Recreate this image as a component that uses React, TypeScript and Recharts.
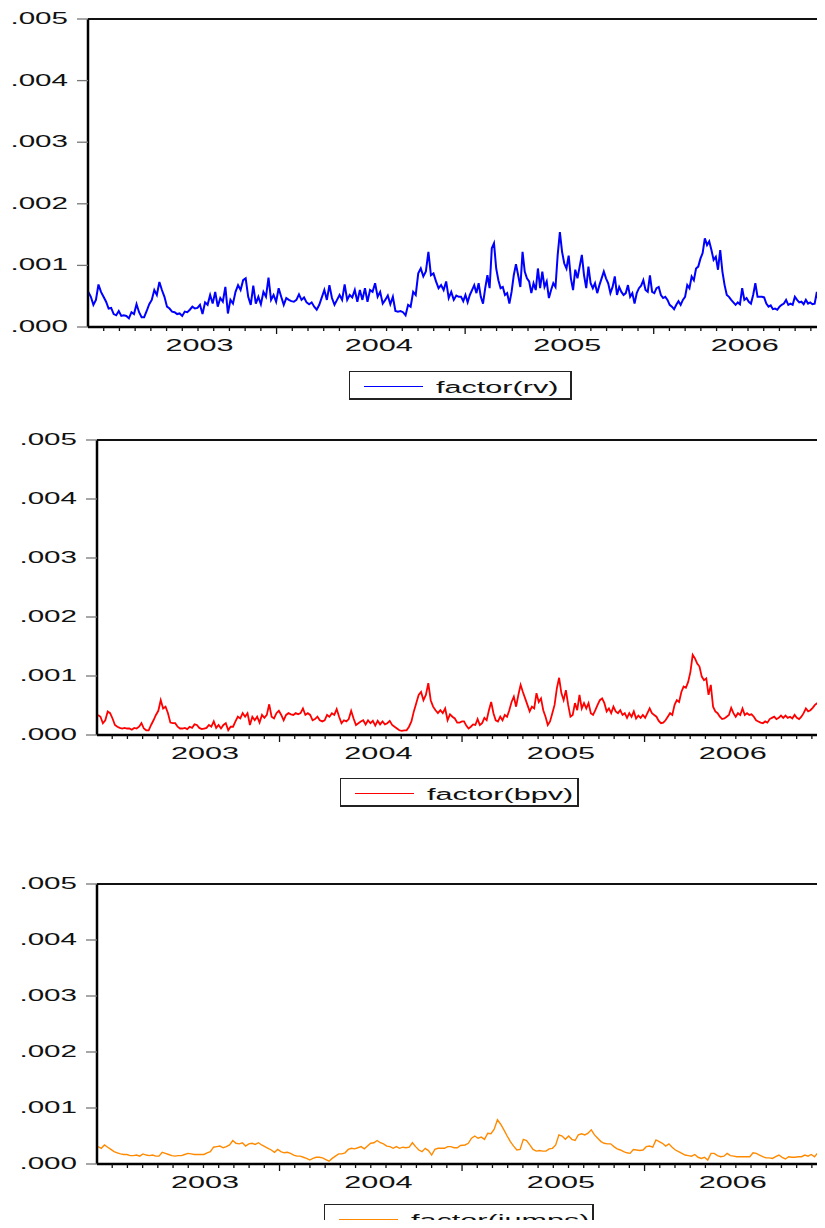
import React from "react";
import { LineChart, Line, XAxis, YAxis, Legend, ReferenceLine } from "recharts";

// series values in units of 1e-4, read left to right off each panel.
// each series is read in two halves; each half spans the months given next to it.
const rvEarly = [
  5.7, 4.9, 3.6, 4.4, 6.9, 5.7, 4.9, 4.1, 3.0, 3.1, 2.1, 1.9, 2.6, 1.8, 1.9, 1.8, 1.4, 2.4, 2.1, 3.7,
  2.4, 1.6, 1.6, 2.6, 3.7, 4.4, 6.0, 5.2, 7.3, 6.0, 4.9, 3.3, 3.0, 2.5, 2.4, 2.1, 2.2, 1.8, 2.5, 2.4,
  2.8, 3.3, 3.0, 3.1, 3.6, 2.1, 4.0, 3.6, 5.2, 3.8, 5.7, 3.3, 4.7, 4.1, 6.5, 2.2, 4.4, 3.8, 5.7, 6.8,
  6.0, 7.6, 7.9, 4.9, 3.6, 6.7, 3.8, 4.9, 3.7, 5.7, 4.9, 8.0, 4.4, 5.2, 4.1, 6.3, 4.9, 3.6, 4.7, 4.4,
  4.2, 4.1, 4.4, 5.3, 4.4, 4.8, 4.0, 3.7, 4.0, 3.3, 2.8, 3.6, 4.8, 6.0, 4.4, 6.8, 4.7, 3.6, 4.4, 5.2,
  4.4, 6.9, 4.4, 5.2, 4.8, 6.0, 4.1, 6.0, 4.4, 6.3, 4.1, 6.0, 5.7, 7.1, 4.9, 5.7, 3.8, 4.4, 5.1, 3.7,
  4.9, 2.6, 2.5, 2.6, 2.4, 1.9, 3.6, 3.3, 5.7, 5.2, 8.7, 9.5, 8.2, 9.0, 12.2, 8.4, 8.7, 7.4, 6.3, 6.8,
  6.0, 7.4, 4.7, 5.7, 4.4, 5.1, 4.9,
];
const rvLate = [
  4.9, 4.2, 5.2, 4.0, 5.2, 6.0, 6.8, 5.5, 7.1, 4.9, 3.8, 6.3, 8.4, 6.3, 12.8, 13.6, 9.5, 7.6, 6.3, 6.5,
  5.2, 5.5, 3.8, 5.7, 8.4, 10.2, 8.4, 6.5, 12.2, 9.0, 7.9, 7.4, 5.5, 7.1, 6.0, 9.5, 6.3, 9.0, 6.5, 7.4,
  4.7, 6.0, 7.1, 6.5, 11.7, 15.4, 12.2, 10.3, 9.5, 11.6, 7.9, 6.0, 9.3, 7.9, 9.8, 11.7, 8.4, 6.3, 9.8, 7.1,
  6.3, 7.1, 5.5, 6.8, 7.9, 9.0, 7.9, 7.1, 5.5, 6.5, 8.2, 5.2, 6.5, 5.7, 5.2, 5.5, 6.8, 4.9, 5.5, 3.8,
  5.5, 6.3, 6.7, 7.6, 6.0, 5.7, 8.4, 5.7, 5.5, 6.3, 6.5, 5.2, 4.7, 4.9, 4.4, 3.6, 3.3, 2.9, 3.6, 4.2,
  3.6, 4.4, 4.9, 6.8, 6.3, 8.2, 7.6, 9.5, 9.8, 11.1, 12.0, 14.4, 13.3, 13.9, 12.5, 10.9, 11.4, 9.3, 12.5, 9.0,
  6.8, 5.2, 4.9, 4.4, 4.0, 3.6, 4.0, 3.7, 6.3, 4.4, 4.7, 4.1, 3.8, 5.2, 7.1, 4.9, 4.9, 4.9, 4.8, 3.8,
  3.3, 3.5, 2.9, 3.0, 2.8, 3.3, 3.6, 3.8, 4.4, 3.6, 3.8, 3.6, 4.9, 4.4, 4.0, 4.1, 3.7, 4.4, 3.8, 4.0,
  3.7, 3.8, 5.7, 3.6, 6.0, 5.5,
];
const rvEarlyMonths = [0.02, 23.6];
const rvLateMonths = [23.74, 46.8];

const bpvEarly = [
  3.4, 3.1, 2.0, 2.5, 4.0, 3.7, 2.8, 1.7, 1.4, 1.2, 1.1, 1.2, 1.1, 1.1, 0.9, 1.2, 1.1, 1.4, 2.0, 1.1,
  0.8, 0.8, 1.7, 2.5, 3.4, 4.1, 5.9, 4.5, 4.8, 3.7, 2.1, 2.0, 2.0, 1.4, 1.1, 1.1, 1.2, 1.0, 1.4, 1.2,
  1.8, 1.7, 1.2, 1.0, 1.1, 1.2, 1.7, 1.4, 2.3, 1.2, 1.7, 1.1, 1.7, 2.0, 0.8, 1.4, 1.4, 2.3, 3.1, 2.8,
  3.7, 3.1, 3.7, 1.7, 3.1, 2.5, 3.1, 2.1, 3.4, 2.9, 3.4, 5.2, 3.1, 2.8, 3.7, 4.1, 3.4, 2.5, 3.4, 3.7,
  3.5, 3.4, 3.7, 3.5, 3.7, 4.5, 3.4, 3.7, 3.4, 2.5, 2.7, 3.1, 2.5, 2.3, 2.5, 3.4, 3.1, 3.7, 3.4, 4.4,
  3.1, 2.0, 2.5, 2.3, 2.7, 4.1, 2.8, 1.7, 2.0, 2.3, 2.5, 1.8, 2.5, 2.0, 2.4, 1.6, 2.4, 1.8, 2.3, 1.8,
  2.0, 2.4, 1.7, 1.4, 1.1, 0.8, 0.7, 0.8, 0.8, 1.4, 2.3, 4.0, 5.4, 6.8, 7.3, 5.9, 6.8, 8.8, 5.9, 4.8,
  4.2, 3.7, 4.2, 3.7, 4.5, 2.5, 3.5, 3.1, 2.8, 2.1, 2.1, 2.3,
];
const bpvLate = [
  2.3, 1.6, 1.1, 1.4, 1.8, 1.7, 2.7, 1.7, 2.0, 2.9, 2.5, 4.2, 5.6, 3.7, 2.5, 2.3, 3.1, 2.5, 3.4, 3.1,
  4.2, 5.6, 6.5, 4.8, 6.8, 8.5, 7.3, 6.2, 5.1, 4.0, 4.8, 4.5, 7.1, 5.6, 6.2, 4.2, 3.1, 1.7, 2.3, 3.7,
  5.1, 7.9, 9.7, 7.1, 5.9, 7.6, 5.1, 3.1, 3.4, 5.4, 4.2, 6.8, 4.5, 5.4, 4.5, 5.4, 3.7, 3.4, 4.2, 5.1,
  5.9, 6.2, 5.4, 4.0, 4.5, 3.7, 4.8, 4.0, 3.7, 4.2, 3.4, 3.7, 2.9, 3.7, 3.1, 4.0, 2.8, 3.3, 2.9, 3.4,
  2.9, 3.7, 4.5, 3.7, 3.4, 3.1, 2.4, 2.0, 2.1, 2.5, 3.1, 3.7, 3.4, 5.1, 5.9, 5.6, 7.3, 8.2, 8.0, 9.0,
  10.7, 13.6, 13.0, 12.1, 11.6, 9.9, 9.3, 9.6, 6.8, 8.5, 4.8, 4.0, 3.7, 3.1, 2.7, 2.8, 3.1, 3.4, 4.6, 3.7,
  3.1, 3.7, 3.4, 4.5, 3.4, 3.7, 3.4, 3.5, 3.1, 2.5, 2.3, 2.1, 2.0, 2.3, 2.1, 2.7, 2.9, 3.1, 2.7, 2.9,
  3.3, 2.9, 3.3, 2.9, 3.1, 2.8, 3.4, 2.9, 2.7, 3.1, 3.7, 4.5, 4.0, 4.2, 4.6, 5.1, 5.4, 5.4,
];
const bpvEarlyMonths = [0.07, 24.0];
const bpvLateMonths = [24.13, 47.5];

const jumpsEarly = [
  3.1, 2.8, 3.4, 3.0, 2.6, 2.2, 2.0, 1.8, 1.7, 1.7, 1.5, 1.5, 1.6, 1.4, 1.8, 1.6, 1.5, 1.6, 1.4, 1.4,
  2.1, 1.9, 1.7, 1.5, 1.4, 1.5, 1.5, 1.7, 1.9, 1.8, 1.7, 1.7, 1.7, 1.7, 2.0, 2.2, 3.0, 3.1, 3.2, 2.9,
  3.1, 3.4, 4.2, 3.7, 3.6, 3.8, 3.2, 3.6, 3.7, 3.5, 3.8, 3.4, 3.1, 2.8, 2.5, 2.1, 2.6, 2.2, 2.0, 2.1,
  1.9, 1.6, 1.4, 1.4, 1.2, 1.0, 0.7, 1.0, 1.2, 1.2, 1.1, 0.8, 0.5, 1.0, 1.4, 1.8, 1.8, 2.0, 2.6, 2.8,
  2.7, 2.9, 3.1, 2.7, 3.2, 3.7, 3.8, 4.2, 3.8, 3.6, 3.2, 3.1, 2.8, 3.1, 2.8, 3.0, 2.9, 3.0, 3.8, 3.1,
  2.5, 2.2, 2.8, 2.4, 1.6, 2.6, 2.8, 2.8, 2.8, 3.1, 3.1, 2.9, 2.9, 3.3,
];
const jumpsLate = [
  3.4, 3.7, 4.6, 5.0, 4.6, 4.8, 4.4, 5.5, 5.4, 6.2, 7.9, 7.1, 6.1, 5.0, 4.0, 3.2, 2.5, 2.6, 4.4, 4.2,
  3.4, 2.6, 2.3, 2.4, 2.3, 2.3, 2.7, 2.8, 3.4, 5.2, 5.0, 4.4, 5.0, 4.4, 4.2, 5.2, 5.4, 5.2, 5.5, 6.1,
  5.2, 4.6, 4.0, 3.7, 3.6, 3.6, 3.1, 2.7, 2.5, 2.2, 2.0, 1.9, 2.6, 2.5, 2.4, 2.5, 3.1, 3.2, 3.0, 4.3,
  4.0, 3.7, 3.2, 3.6, 3.0, 2.5, 2.2, 1.9, 1.6, 1.5, 1.4, 1.7, 1.2, 1.0, 1.2, 0.7, 1.9, 1.9, 1.5, 1.3,
  1.4, 1.9, 1.5, 1.4, 1.3, 1.3, 1.3, 1.3, 1.3, 2.0, 1.9, 1.6, 1.3, 1.1, 1.1, 1.0, 1.3, 1.6, 1.2, 0.9,
  1.3, 1.2, 1.2, 1.3, 1.3, 1.6, 1.4, 1.7, 1.3, 2.0, 2.0,
];
const jumpsEarlyMonths = [0.07, 23.9];
const jumpsLateMonths = [24.2, 47.6];

// x axis in months since Jan 2003
const yTicks = [0, 0.001, 0.002, 0.003, 0.004, 0.005];
const monthTicks = [
  1, 2, 3, 4, 5, 6, 7, 8, 9, 10, 11, 12, 13, 14, 15, 16, 17, 18, 19, 20, 21, 22, 23, 24,
  25, 26, 27, 28, 29, 30, 31, 32, 33, 34, 35, 36, 37, 38, 39, 40, 41, 42, 43, 44, 45, 46, 47,
];
const yearStartMonths = [12, 24, 36];
const yearLabels = ["2003", "2004", "2005", "2006"];
const yearLabelMonths = [7.1, 18.5, 30.5, 41.8];
const axisEnd = 47.6;
const yMax = 0.005;

const FONT = "'Liberation Sans', Arial, Helvetica, sans-serif";

const spread = (vals: number[], span: number[]) =>
  vals.map((v, i) => ({
    t: span[0] + (i * (span[1] - span[0])) / (vals.length - 1),
    v: v / 10000,
  }));

const fmtY = (v: number) => v.toFixed(3).replace(/^0/, "");

const YTick = (props: any) => {
  const { x, y, payload } = props;
  return (
    <text
      transform={`translate(${x - 1},${y + 5}) scale(1.74,1)`}
      textAnchor="end"
      fontSize={17}
      fontFamily={FONT}
      fill="#111"
    >
      {fmtY(payload.value)}
    </text>
  );
};

const XTick = (props: any) => {
  const { x, y, payload } = props;
  const li = yearLabelMonths.indexOf(payload.value);
  if (li >= 0) {
    return (
      <text
        transform={`translate(${x},${y + 24}) scale(1.8,1)`}
        textAnchor="middle"
        fontSize={17}
        fontFamily={FONT}
        fill="#111"
      >
        {yearLabels[li]}
      </text>
    );
  }
  const len = yearStartMonths.includes(payload.value) ? 7 : 4;
  return <line x1={x} x2={x} y1={y} y2={y + len} stroke="#111" strokeWidth={1.3} />;
};

const makeLegend = (boxWidth: number) => (props: any) => {
  const item = props.payload && props.payload[0];
  if (!item) return null;
  return (
    <div
      style={{
        width: boxWidth,
        height: 29,
        boxSizing: "border-box",
        border: "1px solid #222",
        borderRightWidth: 2,
        borderBottomWidth: 2,
        background: "#fff",
      }}
    >
      <svg width={boxWidth - 3} height={26} style={{ display: "block" }}>
        <line x1={14} x2={73} y1={14.5} y2={14.5} stroke={item.color} strokeWidth={1.2} />
        <text
          transform="translate(86,21) scale(1.8,1)"
          fontSize={17}
          fontFamily={FONT}
          fill="#111"
        >
          {item.value}
        </text>
      </svg>
    </div>
  );
};

interface PanelProps {
  top: number;
  width: number;
  height: number;
  margin: { top: number; right: number; bottom: number; left: number };
  yAxisWidth: number;
  data: { t: number; v: number }[];
  name: string;
  color: string;
  lineWidth: number;
  legendLeft: number;
  legendTop: number;
  legendWidth: number;
}

const Panel: React.FC<PanelProps> = (p) => (
  <div style={{ position: "absolute", left: 0, top: p.top }}>
    <LineChart width={p.width} height={p.height} data={p.data} margin={p.margin}>
      <XAxis
        dataKey="t"
        type="number"
        domain={[0, axisEnd]}
        ticks={[...monthTicks, ...yearLabelMonths]}
        interval={0}
        tickSize={0}
        tickMargin={0}
        tickLine={false}
        tick={<XTick />}
        axisLine={{ stroke: "#000", strokeWidth: 2.5 }}
        height={40}
      />
      <YAxis
        type="number"
        domain={[0, yMax]}
        ticks={yTicks}
        interval={0}
        tickSize={11}
        tickMargin={8}
        tickLine={{ stroke: "#777", strokeWidth: 1.3 }}
        tick={<YTick />}
        axisLine={{ stroke: "#000", strokeWidth: 2.5 }}
        width={p.yAxisWidth}
      />
      <ReferenceLine y={yMax} stroke="#111" strokeWidth={1.8} />
      <ReferenceLine x={axisEnd} stroke="#111" strokeWidth={2} />
      <Line
        type="linear"
        dataKey="v"
        name={p.name}
        stroke={p.color}
        strokeWidth={p.lineWidth}
        dot={false}
        activeDot={false}
        isAnimationActive={false}
      />
      <Legend
        layout="vertical"
        align="center"
        verticalAlign="middle"
        content={makeLegend(p.legendWidth)}
        wrapperStyle={{ left: p.legendLeft, top: p.legendTop, width: p.legendWidth }}
      />
    </LineChart>
  </div>
);

export default function App() {
  return (
    <div
      style={{
        position: "relative",
        width: 825,
        height: 1228,
        margin: -8,
        overflow: "hidden",
        background: "#fff",
      }}
    >
      <Panel
        top={9}
        width={850}
        height={403}
        margin={{ top: 10, right: 14, bottom: 45, left: 0 }}
        yAxisWidth={88}
        data={[...spread(rvEarly, rvEarlyMonths), ...spread(rvLate, rvLateMonths)]}
        name="factor(rv)"
        color="#0000ff"
        lineWidth={2}
        legendLeft={349}
        legendTop={362}
        legendWidth={223}
      />
      <Panel
        top={430}
        width={825}
        height={385}
        margin={{ top: 10, right: 4, bottom: 40, left: 0 }}
        yAxisWidth={97}
        data={[...spread(bpvEarly, bpvEarlyMonths), ...spread(bpvLate, bpvLateMonths)]}
        name="factor(bpv)"
        color="#ff0000"
        lineWidth={1.8}
        legendLeft={340}
        legendTop={348}
        legendWidth={239}
      />
      <Panel
        top={874}
        width={825}
        height={360}
        margin={{ top: 10, right: 4, bottom: 30, left: 0 }}
        yAxisWidth={97}
        data={[...spread(jumpsEarly, jumpsEarlyMonths), ...spread(jumpsLate, jumpsLateMonths)]}
        name="factor(jumps)"
        color="#ff8a00"
        lineWidth={1.4}
        legendLeft={324}
        legendTop={330}
        legendWidth={270}
      />
    </div>
  );
}
